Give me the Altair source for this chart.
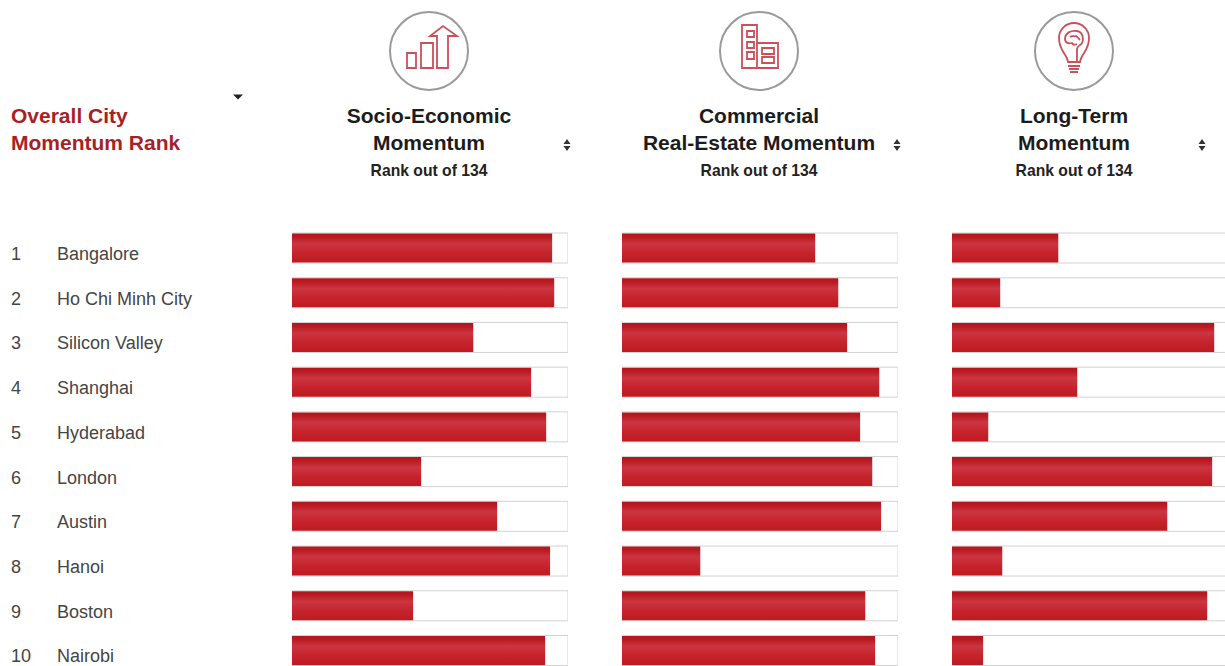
import altair as alt
import pandas as pd

# Top ten cities and their momentum bars, on a 0-134 scale
ranks = [1, 2, 3, 4, 5, 6, 7, 8, 9, 10]
cities = ["Bangalore", "Ho Chi Minh City", "Silicon Valley", "Shanghai", "Hyderabad",
          "London", "Austin", "Hanoi", "Boston", "Nairobi"]
socio = [126.3, 127.3, 88.0, 116.1, 123.4, 62.7, 99.6, 125.3, 58.8, 122.9]
commercial = [93.8, 105.0, 109.3, 124.9, 115.6, 121.5, 125.8, 38.0, 118.1, 122.9]
long_term = [51.6, 23.4, 127.3, 60.8, 17.6, 126.3, 104.5, 24.4, 123.9, 15.1]
scale_max = 134

FONT = "Liberation Sans"
RED_TEXT = "#a81f26"
ICON_RED = "#cc5058"
CHART_H = 666
PANEL_W = 276
GAP = 54

table = pd.DataFrame({"rank": ranks, "city": cities, "socio": socio,
                      "commercial": commercial, "long_term": long_term,
                      "full": [scale_max] * len(ranks)})
one = pd.DataFrame({"k": [0]})

y_enc = alt.Y("rank:Q", axis=None,
              scale=alt.Scale(domain=[-4.546, 10.347], range=[0, CHART_H],
                              nice=False, zero=False, padding=0))
bar_fill = alt.Gradient(
    gradient="linear", x1=0, x2=0, y1=0, y2=1,
    stops=[alt.GradientStop(offset=0, color="#b5141c"),
           alt.GradientStop(offset=0.12, color="#b91a22"),
           alt.GradientStop(offset=0.35, color="#cc3540"),
           alt.GradientStop(offset=0.7, color="#c5222b"),
           alt.GradientStop(offset=1, color="#bf1a20")])

ICON_PATHS = {
    "growth": ["M-22,2H-13V17H-22Z", "M-8,-8H4V17H-8Z",
               "M8,17V-15H1L14,-25L28,-15H19V17Z"],
    "buildings": ["M-2,-8V-26H-17V17H19V-8Z", "M-2,-8H8M-2,-8V17",
                  "M-12,-20H-5V-14H-12Z", "M-12,-9H-5V-3H-12Z", "M-12,1H-5V8H-12Z",
                  "M3,-3H15V3H3Z", "M3,6H15V12H3Z"],
    "bulb": ["M-6,11C-7,3 -15,0 -15,-13A15,15 0 1 1 15,-13C15,0 7,3 6,11Z",
             "M-6,15H6M-5,18H5M-4,21H4",
             "M-9,-12C-9,-18 -3,-21 3,-20C9,-19 10,-12 8,-8C6,-5 3,-5 3,-2V11",
             "M-9,-12C-9,-8 -5,-7 -2,-8C-1,-6 1,-6 3,-7M-4,-14C-2,-16 0,-14 2,-15C4,-14 5,-12 6,-11"],
}


def glyph(path, x, y, fill=None, stroke=None, width=1.8):
    """A fixed header glyph: the path is in pixels around (x, y); size 4 keeps unit scale."""
    style = {"shape": path, "size": 4, "filled": fill is not None, "opacity": 1}
    if fill is not None:
        style["fill"] = fill
        style["strokeWidth"] = 0
    else:
        style["stroke"] = stroke
        style["strokeWidth"] = width
    return alt.Chart(one).mark_point(**style).encode(x=alt.value(x), y=alt.value(y))


def header_text(lines, x, y, size, color="#1c1c1c", bold=True, align="center"):
    return alt.Chart(one).mark_text(
        text=lines, font=FONT, fontSize=size, fontWeight="bold" if bold else "normal",
        color=color, align=align, baseline="middle", lineHeight=27,
    ).encode(x=alt.value(x), y=alt.value(y))


def panel(field, title_lines, icon, center, sorter_x, width=PANEL_W):
    length_scale = alt.Scale(domain=[0, scale_max], range=[0, PANEL_W], nice=False, padding=0)
    track = alt.Chart(table).mark_bar(
        orient="horizontal", height=30, fill="white", stroke="#d2d2d2", strokeWidth=1, clip=True
    ).encode(x=alt.X("full:Q", axis=None, scale=length_scale), y=y_enc)
    bars = alt.Chart(table).mark_bar(
        orient="horizontal", height=29, fill=bar_fill, clip=True
    ).encode(x=alt.X(f"{field}:Q", axis=None, scale=length_scale), y=y_enc)
    cy = 51
    head = [glyph("M-39,0A39,39 0 1 1 39,0A39,39 0 1 1 -39,0Z", center, cy, stroke="#9a9a9a", width=2)]
    head += [glyph(p, center, cy, stroke=ICON_RED) for p in ICON_PATHS[icon]]
    head.append(header_text(title_lines, center, 117, 21))
    head.append(header_text("Rank out of 134", center, 171, 15.7, color="#222222"))
    head.append(glyph("M-3.5,-1L0,-6L3.5,-1Z", sorter_x, 145, fill="#333333"))
    head.append(glyph("M-3.5,1L0,6L3.5,1Z", sorter_x, 145, fill="#333333"))
    return alt.layer(track, bars, *head).properties(width=width, height=CHART_H)


left_text = alt.Chart(table).mark_text(
    font=FONT, fontSize=18, color="#454545", align="left", baseline="middle", dy=7
)
left = alt.layer(
    left_text.encode(x=alt.value(11), y=y_enc, text=alt.Text("rank:Q")),
    left_text.encode(x=alt.value(57), y=y_enc, text=alt.Text("city:N")),
    header_text(["Overall City", "Momentum Rank"], 11, 117, 21, color=RED_TEXT, align="left"),
    glyph("M-5,-2.5H5L0,2.5Z", 238, 97, fill="#222222"),
).properties(width=292 - GAP, height=CHART_H)

chart = alt.hconcat(
    left,
    panel("socio", ["Socio-Economic", "Momentum"], "growth", 137, 275),
    panel("commercial", ["Commercial", "Real-Estate Momentum"], "buildings", 137, 275),
    panel("long_term", ["Long-Term", "Momentum"], "bulb", 122, 250, width=273),
    spacing=GAP, padding=0, bounds="flush", background="white",
).configure_view(stroke=None)

chart.save("out.html", embed_options={"renderer": "svg", "actions": False})
